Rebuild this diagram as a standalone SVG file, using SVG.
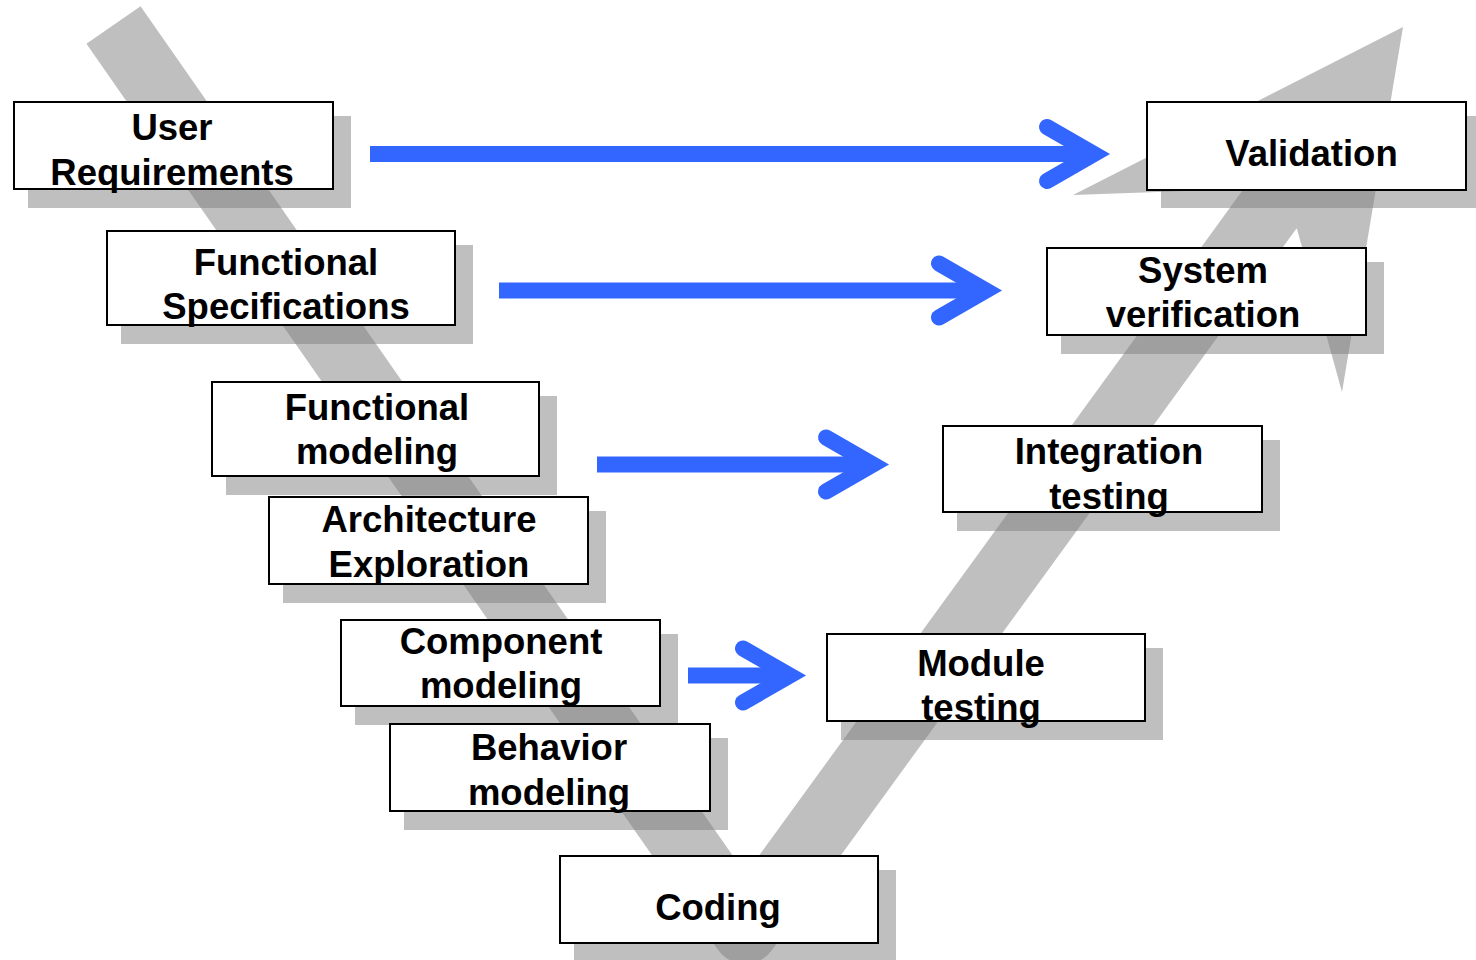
<svg xmlns="http://www.w3.org/2000/svg" width="1476" height="960" viewBox="0 0 1476 960">
  <defs>
    <style>
      .band { fill: none; stroke: #808080; stroke-width: 66; stroke-linejoin: round; stroke-linecap: butt; }
      .shadow { fill: #808080; opacity: 0.5; }
      .box { fill: #ffffff; stroke: #000000; stroke-width: 2; }
      .label { font-family: "Liberation Sans", Arial, sans-serif; font-weight: bold; font-size: 36.5px; fill: #000000; text-anchor: middle; }
      .shaft { stroke: #3366ff; stroke-width: 16; fill: none; stroke-linecap: butt; }
    </style>
    <marker id="chevron" markerUnits="userSpaceOnUse" markerWidth="80" markerHeight="80" refX="0" refY="0" orient="auto" overflow="visible" viewBox="-60 -40 80 80">
      <path d="M-47,-27 L0,0 L-47,27" fill="none" stroke="#3366ff" stroke-width="16" stroke-linecap="round" stroke-linejoin="miter" stroke-miterlimit="4"/>
    </marker>
  </defs>

  <rect width="1476" height="960" fill="#ffffff"/>

  <!-- V-shaped process band with arrowhead, translucent grey -->
  <g id="v-band" opacity="0.5">
    <path class="band" d="M113.5,25 L745,931 L1280,195"/>
    <polygon fill="#808080" points="1403,27 1073,195 1242,189 1297,229 1342,392"/>
  </g>

  <!-- drop shadows -->
  <g id="shadows">
    <rect class="shadow" x="28" y="116" width="323" height="92"/>
    <rect class="shadow" x="121" y="245" width="352" height="99"/>
    <rect class="shadow" x="226" y="396" width="331" height="99"/>
    <rect class="shadow" x="283" y="511" width="323" height="92"/>
    <rect class="shadow" x="355" y="634" width="323" height="91"/>
    <rect class="shadow" x="404" y="738" width="324" height="92"/>
    <rect class="shadow" x="574" y="870" width="322" height="92"/>
    <rect class="shadow" x="1161" y="116" width="323" height="92"/>
    <rect class="shadow" x="1061" y="262" width="323" height="92"/>
    <rect class="shadow" x="957" y="440" width="323" height="91"/>
    <rect class="shadow" x="841" y="648" width="322" height="92"/>
  </g>

  <!-- horizontal correspondence arrows -->
  <g id="connectors">
    <line class="shaft" x1="370" y1="154" x2="1094" y2="154" marker-end="url(#chevron)"/>
    <line class="shaft" x1="499" y1="290.5" x2="986" y2="290.5" marker-end="url(#chevron)"/>
    <line class="shaft" x1="597" y1="464.5" x2="873" y2="464.5" marker-end="url(#chevron)"/>
    <line class="shaft" x1="688" y1="675.5" x2="790" y2="675.5" marker-end="url(#chevron)"/>
  </g>

  <!-- left side: specification and design -->
  <g id="user-requirements">
    <rect class="box" x="14" y="102" width="319" height="87"/>
    <text class="label" x="172" y="140">User</text>
    <text class="label" x="172" y="184.5">Requirements</text>
  </g>
  <g id="functional-specifications">
    <rect class="box" x="107" y="231" width="348" height="94"/>
    <text class="label" x="286" y="274.5">Functional</text>
    <text class="label" x="286" y="319">Specifications</text>
  </g>
  <g id="functional-modeling">
    <rect class="box" x="212" y="382" width="327" height="94"/>
    <text class="label" x="377" y="420">Functional</text>
    <text class="label" x="377" y="464">modeling</text>
  </g>
  <g id="architecture-exploration">
    <rect class="box" x="269" y="497" width="319" height="87"/>
    <text class="label" x="429" y="532">Architecture</text>
    <text class="label" x="429" y="576.5">Exploration</text>
  </g>
  <g id="component-modeling">
    <rect class="box" x="341" y="620" width="319" height="86"/>
    <text class="label" x="501" y="654">Component</text>
    <text class="label" x="501" y="698">modeling</text>
  </g>
  <g id="behavior-modeling">
    <rect class="box" x="390" y="724" width="320" height="87"/>
    <text class="label" x="549" y="760">Behavior</text>
    <text class="label" x="549" y="804.5">modeling</text>
  </g>
  <g id="coding">
    <rect class="box" x="560" y="856" width="318" height="87"/>
    <text class="label" x="718" y="919.5">Coding</text>
  </g>

  <!-- right side: verification and testing -->
  <g id="validation">
    <rect class="box" x="1147" y="102" width="319" height="88"/>
    <text class="label" x="1311.5" y="166">Validation</text>
  </g>
  <g id="system-verification">
    <rect class="box" x="1047" y="248" width="319" height="87"/>
    <text class="label" x="1203" y="283">System</text>
    <text class="label" x="1203" y="327">verification</text>
  </g>
  <g id="integration-testing">
    <rect class="box" x="943" y="426" width="319" height="86"/>
    <text class="label" x="1109" y="464">Integration</text>
    <text class="label" x="1109" y="508.5">testing</text>
  </g>
  <g id="module-testing">
    <rect class="box" x="827" y="634" width="318" height="87"/>
    <text class="label" x="981" y="676">Module</text>
    <text class="label" x="981" y="720">testing</text>
  </g>
</svg>
